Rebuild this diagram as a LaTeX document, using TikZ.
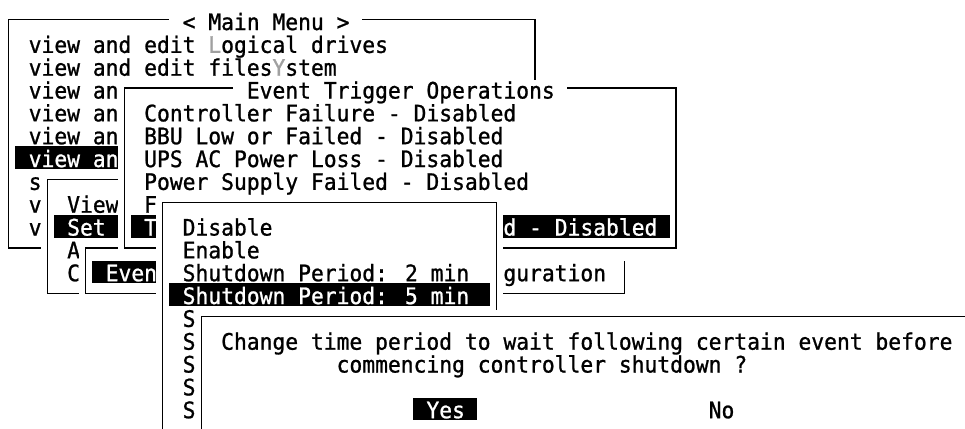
\documentclass[tikz,border=0pt]{standalone}
\usepackage{fontspec}
\usepackage{xcolor}

\newfontfamily\termfont[FakeStretch=0.94,FakeBold=1]{DejaVu Sans Mono}
\definecolor{hotkey}{HTML}{A0A0A0}

% a text window: left col, top row, right col, bottom row
\newcommand{\termwin}[4]{%
  \fill[white] (#1,#2+.15) rectangle (#3+1,#4+1);
  \draw (#1+.5,#2+.44) rectangle (#3+.5,#4+.44);}

\begin{document}
\begin{tikzpicture}[x=9.62pt, y=-17.12pt, line width=1pt,
    txt/.style={anchor=base west, inner sep=0pt, font=\termfont\fontsize{17pt}{17pt}\selectfont},
    hi/.style={txt, text=white}]
    \fill[white] (-.187,-.416) rectangle (75.03,18.33);
    \useasboundingbox (-.187,-.416) rectangle (75.03,18.33);

    % main menu
    \termwin{0}{0}{41}{10}
    \fill[white] (13,.1) rectangle (28,.8);
    \node[txt] (mainTitle) at (14,.9) {< Main Menu >};
    \node[txt] (mLogical) at (2,1.9) {view and edit {\color{hotkey}L}ogical drives};
    \node[txt] (mFiles) at (2,2.9) {view and edit files{\color{hotkey}Y}stem};
    \node[txt] (mView3) at (2,3.9) {view an};
    \node[txt] (mView4) at (2,4.9) {view an};
    \node[txt] (mView5) at (2,5.9) {view an};
    \fill (1,6) rectangle (9,7);
    \node[hi] (mView6) at (2,6.9) {view an};
    \node[txt] (mS) at (2,7.9) {s};
    \node[txt] (mV8) at (2,8.9) {v};
    \node[txt] (mV9) at (2,9.9) {v};

    % view / set submenu
    \termwin{3}{7}{30}{12}
    \node[txt] (sView) at (5,8.9) {View};
    \fill (4,9) rectangle (9,10);
    \node[hi] (sSet) at (5,9.9) {Set};
    \node[txt] (sA) at (5,10.9) {A};
    \node[txt] (sC) at (5,11.9) {C};

    % event configuration
    \termwin{6}{10}{48}{12}
    \fill (7,11) rectangle (12,12);
    \node[hi] (cEven) at (8,11.9) {Even};
    \node[txt] (cGur) at (39,11.9) {guration};

    % event trigger operations
    \termwin{9}{3}{52}{10}
    \fill[white] (18,3.1) rectangle (44,3.8);
    \node[txt] (eTitle) at (19,3.9) {Event Trigger Operations};
    \node[txt] (eCtrl) at (11,4.9) {Controller Failure - Disabled};
    \node[txt] (eBBU) at (11,5.9) {BBU Low or Failed - Disabled};
    \node[txt] (eUPS) at (11,6.9) {UPS AC Power Loss - Disabled};
    \node[txt] (ePower) at (11,7.9) {Power Supply Failed - Disabled};
    \node[txt] (eF) at (11,8.9) {F};
    \fill (10,9) rectangle (52,10);
    \node[hi] (eT) at (11,9.9) {T};
    \node[hi] (eDis) at (39,9.9) {d - Disabled};

    % period choice
    \termwin{12}{8}{38}{20}
    \node[txt] (pDisable) at (14,9.9) {Disable};
    \node[txt] (pEnable) at (14,10.9) {Enable};
    \node[txt] (pTwo) at (14,11.9) {Shutdown Period: 2 min};
    \fill (13,12) rectangle (38,13);
    \node[hi] (pFive) at (14,12.9) {Shutdown Period: 5 min};
    \foreach \r in {13,...,17}
        \node[txt] (pS\r) at (14,\r.9) {S};

    % confirm dialog
    \termwin{15}{13}{80}{20}
    \node[txt] (qLine1) at (17,14.9) {Change time period to wait following certain event before};
    \node[txt] (qLine2) at (26,15.9) {commencing controller shutdown ?};
    \fill (32,17) rectangle (37,18);
    \node[hi] (qYes) at (33,17.9) {Yes};
    \node[txt] (qNo) at (55,17.9) {No};
\end{tikzpicture}
\end{document}
